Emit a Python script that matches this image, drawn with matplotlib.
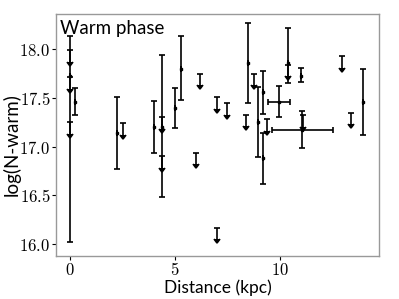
import matplotlib
matplotlib.use("Agg")
import matplotlib.pyplot as plt
import numpy as np
from matplotlib.ticker import FuncFormatter

plt.rcParams['mathtext.fontset'] = 'cm'

# Measurements
meas_x = [0.0, 0.25, 2.24, 4.0, 4.4, 5.0, 5.3, 8.48, 8.95, 9.19, 9.19, 9.95, 10.38, 11.0, 11.05, 13.95]
meas_y = [17.72, 17.46, 17.14, 17.2, 17.2, 17.4, 17.8, 17.86, 17.25, 17.56, 16.88, 17.46, 17.86, 17.73, 17.17, 17.46]
meas_err_lo = [1.70, 0.14, 0.37, 0.26, 0.72, 0.21, 0.32, 0.41, 0.36, 0.22, 0.26, 0.16, 0.21, 0.07, 0.18, 0.34]
meas_err_hi = [0.42, 0.14, 0.37, 0.27, 0.74, 0.20, 0.33, 0.41, 0.36, 0.22, 0.26, 0.16, 0.36, 0.08, 0.20, 0.34]
meas_xerr = [0, 0, 0, 0, 0, 0, 0, 0, 0, 0, 0, 0.52, 0, 0, 1.45, 0]

# Upper limits
ul_x = [0.0, 0.0, 0.0, 2.52, 4.4, 4.4, 6.0, 6.19, 7.0, 7.0, 7.48, 8.38, 8.76, 9.38, 10.38, 11.1, 12.95, 13.37]
ul_y = [17.99, 17.71, 17.25, 17.24, 17.3, 16.9, 16.94, 17.75, 17.51, 16.17, 17.45, 17.33, 17.75, 17.28, 17.84, 17.32, 17.93, 17.35]
ul_len = 0.12

fig = plt.figure(figsize=(3.99, 2.99), dpi=100)
ax = fig.add_axes([0.140, 0.144, 0.810, 0.809])

ax.errorbar(meas_x, meas_y, yerr=[meas_err_lo, meas_err_hi], xerr=meas_xerr,
            fmt='s', color='black', ms=2, elinewidth=1.2, capsize=2, capthick=1.2)
ax.errorbar(ul_x, ul_y, yerr=ul_len, uplims=True, fmt='none', ecolor='black', color='black',
            elinewidth=1.2, capsize=2, capthick=1.2)
for c in ax.lines:
    c.set_markerfacecolor('black')
    c.set_markeredgecolor('black')

ax.set_xlim(-0.67, 14.71)
ax.set_ylim(15.88, 18.36)
ax.set_xticks([0, 5, 10])
ax.set_yticks([16.0, 16.5, 17.0, 17.5, 18.0])
ax.xaxis.set_major_formatter(FuncFormatter(lambda v, p: r'$%d$' % v))
ax.yaxis.set_major_formatter(FuncFormatter(lambda v, p: r'$%.1f$' % v))
ax.tick_params(axis='both', labelsize=12, length=3, width=0.8, color='black', pad=1)
for s in ax.spines.values():
    s.set_color('#999999')
    s.set_linewidth(1.0)

ax.set_xlabel('Distance (kpc)', fontsize=12.5, family='Lato', labelpad=0)
ax.set_ylabel('log(N-warm)', fontsize=13.5, family='Lato')
ax.yaxis.set_label_coords(-0.11, 0.46)
ax.text(0.012, 0.975, 'Warm phase', transform=ax.transAxes, fontsize=13.5, family='Lato',
        va='top', ha='left')

fig.savefig('out.png', dpi=100)
